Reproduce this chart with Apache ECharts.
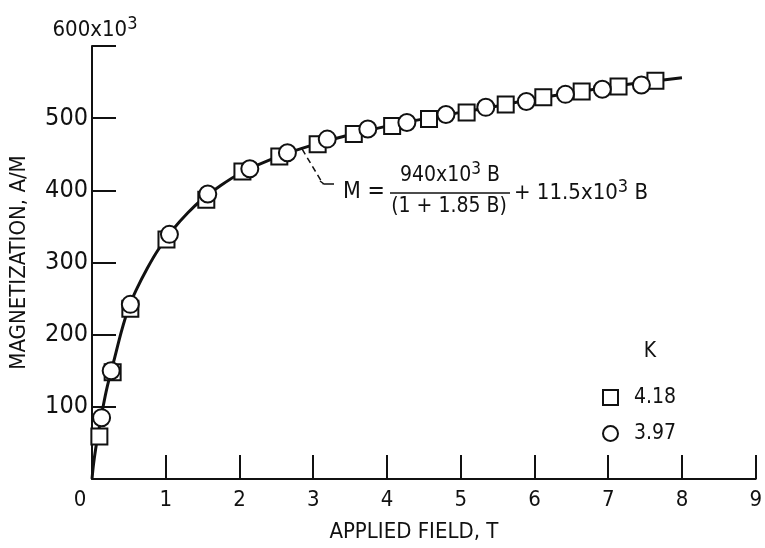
<!DOCTYPE html>
<html>
<head>
<meta charset="utf-8">
<script src="https://cdn.jsdelivr.net/npm/echarts@6/dist/echarts.min.js"></script>
<style>
  html, body { margin: 0; padding: 0; background: #fff; }
  #chart { width: 765px; height: 548px; }
</style>
</head>
<body>
<div id="chart"></div>
<script>
// fitted curve (B in T, M in 10^3 A/M)
const curveB = [0, 0.02, 0.05, 0.1, 0.15, 0.2, 0.3, 0.4, 0.5, 0.6, 0.75, 0.9, 1.1, 1.3, 1.5, 1.75, 2, 2.5, 3, 3.5, 4, 4.5, 5, 5.5, 6, 6.5, 7, 7.5, 8];
const curveM = [0, 20, 42, 72, 100, 125, 165, 205, 238, 262, 292, 318, 346, 369, 388, 407, 423, 446, 463, 477, 489, 499, 508, 517, 527, 535, 543, 550, 556];

// 4.18 K (squares)
const squareB = [0.10, 0.28, 0.52, 1.01, 1.55, 2.04, 2.54, 3.06, 3.55, 4.07, 4.57, 5.08, 5.61, 6.12, 6.64, 7.14, 7.64];
const squareM = [59, 148, 236, 332, 387, 426, 447, 464, 478, 489, 499, 508, 519, 529, 537, 544, 552];

// 3.97 K (circles)
const circleB = [0.13, 0.26, 0.52, 1.05, 1.57, 2.14, 2.65, 3.19, 3.74, 4.27, 4.80, 5.34, 5.89, 6.42, 6.92, 7.45];
const circleM = [85, 150, 242, 339, 395, 430, 452, 471, 485, 494, 505, 515, 523, 533, 540, 546];

const xTickLabels = ['0', '1', '2', '3', '4', '5', '6', '7', '8', '9'];
const yTickLabels = ['', '100', '200', '300', '400', '500', ''];
const yTopLabel = '600x10';
const seriesNames = ['4.18', '3.97'];
const leaderAt = [2.85, 457];

const FONT = "'Liberation Sans Narrow', 'DejaVu Sans Condensed', 'Roboto Condensed', 'Liberation Sans', sans-serif";
const INK = '#111';

const zip = (a, b) => a.map((v, i) => [v, b[i]]);

const chart = echarts.init(document.getElementById('chart'), null, { renderer: 'canvas' });

const markerStyle = { color: '#fff', borderColor: INK, borderWidth: 2, opacity: 1 };

chart.setOption({
    animation: false,
    backgroundColor: '#fff',
    grid: { left: 92, top: 46, width: 666, height: 439, containLabel: false },
    xAxis: {
        type: 'value',
        min: 0, max: 9, interval: 1,
        axisLine: { lineStyle: { color: INK, width: 2 } },
        axisTick: { inside: true, length: 24, lineStyle: { color: INK, width: 2 } },
        splitLine: { show: false },
        axisLabel: {
            margin: 10,
            color: INK,
            fontFamily: FONT,
            fontSize: 22,
            formatter: (v) => {
                const s = xTickLabels[Math.round(v)] || '';
                return v === 0 ? '{z|' + s + '}' : s;
            },
            rich: { z: { padding: [0, 24, 0, 0], fontFamily: FONT, fontSize: 22, color: INK } }
        },
        name: 'APPLIED FIELD, T',
        nameLocation: 'middle',
        nameGap: 42,
        nameTextStyle: { color: INK, fontFamily: FONT, fontSize: 22, padding: [0, 20, 0, 0] }
    },
    yAxis: {
        type: 'value',
        min: 0, max: 600, interval: 100,
        axisLine: { lineStyle: { color: INK, width: 2 } },
        axisTick: { inside: true, length: 24, lineStyle: { color: INK, width: 2 } },
        splitLine: { show: false },
        axisLabel: {
            margin: 4,
            color: INK,
            fontFamily: FONT,
            fontSize: 25,
            formatter: (v) => yTickLabels[Math.round(v / 100)] || ''
        },
        name: 'MAGNETIZATION, A/M',
        nameLocation: 'middle',
        nameGap: 62,
        nameTextStyle: { color: INK, fontFamily: FONT, fontSize: 22 }
    },
    legend: {
        data: seriesNames,
        orient: 'vertical',
        left: 597,
        top: 382,
        itemWidth: 15,
        itemHeight: 15,
        itemGap: 15,
        textStyle: { color: INK, fontFamily: FONT, fontSize: 21, padding: [0, 0, 0, 11] }
    },
    series: [
        {
            type: 'line',
            data: zip(curveB, curveM),
            smooth: 0.3,
            showSymbol: false,
            lineStyle: { color: INK, width: 3 },
            z: 1
        },
        {
            name: seriesNames[0],
            type: 'scatter',
            symbol: 'rect',
            symbolSize: 16,
            data: zip(squareB, squareM),
            itemStyle: markerStyle,
            z: 2
        },
        {
            name: seriesNames[1],
            type: 'scatter',
            symbol: 'circle',
            symbolSize: 17,
            data: zip(circleB, circleM),
            itemStyle: markerStyle,
            z: 3
        }
    ]
});

// annotations: top axis label, formula with leader, legend heading
const p0 = chart.convertToPixel({ gridIndex: 0 }, leaderAt);
const topY = chart.convertToPixel({ gridIndex: 0 }, [0, 600])[1];
const axisX = chart.convertToPixel({ gridIndex: 0 }, [0, 0])[0];
const txt = (s, x, y, size, align) => ({
    type: 'text', x: x, y: y,
    style: { text: s, fill: INK, font: size + 'px ' + FONT, align: align || 'left', verticalAlign: 'middle' }
});
const supText = (base, tail, x, y, size, align) => ({
    type: 'text', x: x, y: y,
    style: {
        text: '{b|' + base + '}{s|3}{b|' + tail + '}',
        align: align || 'left', verticalAlign: 'middle',
        rich: {
            b: { fill: INK, fontFamily: FONT, fontSize: size },
            s: { fill: INK, fontFamily: FONT, fontSize: Math.round(size * 0.8), padding: [0, 0, 12, 0] }
        }
    }
});

chart.setOption({
    graphic: [
        supText(yTopLabel, '', axisX + 3, topY - 16, 22, 'center'),
        {
            type: 'polyline',
            shape: { points: [[p0[0], p0[1]], [323, 184]] },
            style: { stroke: INK, lineWidth: 1.5, lineDash: [6, 4], fill: null }
        },
        {
            type: 'polyline',
            shape: { points: [[320, 181], [324, 184], [334, 184]] },
            style: { stroke: INK, lineWidth: 1.5, fill: null }
        },
        txt('M =', 343, 192, 23),
        supText('940x10', ' B', 450, 176, 21, 'center'),
        {
            type: 'line',
            shape: { x1: 390, y1: 193, x2: 510, y2: 193 },
            style: { stroke: INK, lineWidth: 1.5 }
        },
        txt('(1 + 1.85 B)', 449, 207, 21, 'center'),
        supText('+ 11.5x10', ' B', 514, 193, 22),
        txt('K', 650, 352, 21, 'center')
    ]
});
</script>
</body>
</html>
